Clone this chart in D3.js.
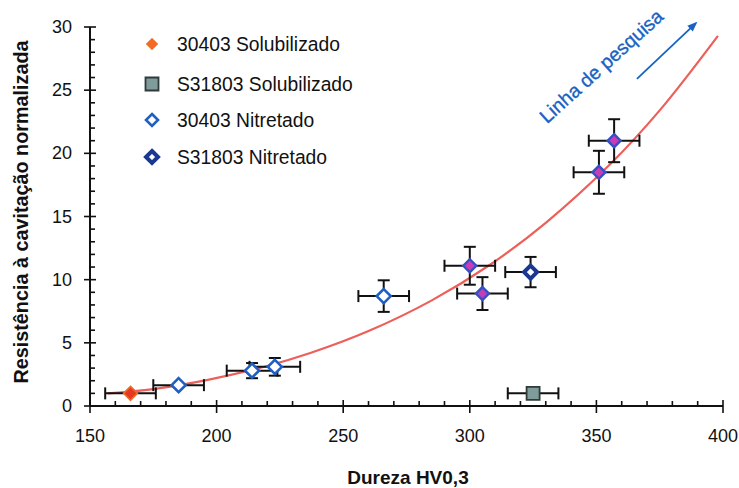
<!DOCTYPE html>
<html>
<head>
<meta charset="utf-8">
<script src="https://cdn.jsdelivr.net/npm/d3@7"></script>
<style>
  body { margin: 0; background: #fff; }
  text { font-family: "Liberation Sans", Arial, Helvetica, sans-serif; }
</style>
</head>
<body>
<svg id="chart" width="739" height="488"></svg>
<script>
// ---- data ----
const xTicks = [150, 200, 250, 300, 350, 400];
const yTicks = [0, 5, 10, 15, 20, 25, 30];

// 30403 Solubilizado
const sol30403Hv = [166];
const sol30403Res = [1.0];
const sol30403HvErr = [10];
const sol30403ResErr = [0];

// S31803 Solubilizado
const solS31803Hv = [325];
const solS31803Res = [1.0];
const solS31803HvErr = [10];
const solS31803ResErr = [0];

// 30403 Nitretado
const nit30403Hv = [185, 214, 223, 266];
const nit30403Res = [1.65, 2.8, 3.1, 8.7];
const nit30403HvErr = [10, 10, 10, 10];
const nit30403ResErr = [0, 0.6, 0.7, 1.25];

// S31803 Nitretado
const nitS31803Hv = [324];
const nitS31803Res = [10.6];
const nitS31803HvErr = [10];
const nitS31803ResErr = [1.2];

// Nitretado, high-hardness samples (pink fill)
const nitAltaHv = [300, 305, 351, 357];
const nitAltaRes = [11.1, 8.9, 18.5, 21.0];
const nitAltaHvErr = [10, 10, 10, 10];
const nitAltaResErr = [1.5, 1.3, 1.7, 1.7];

// trend line ("Linha de pesquisa")
const trendHv = [157, 175, 197, 220, 237, 260, 285, 308, 330, 355, 375, 398];
const trendRes = [1.0, 1.34, 2.09, 3.17, 4.19, 5.93, 8.36, 11.18, 14.5, 19.05, 23.4, 29.3];

const legendLabels = ["30403 Solubilizado", "S31803 Solubilizado", "30403 Nitretado", "S31803 Nitretado"];

// ---- layout ----
const svg = d3.select("#chart");
const x = d3.scaleLinear().domain([150, 400]).range([90, 723]);
const y = d3.scaleLinear().domain([0, 30]).range([406, 27]);

const zip = (hv, res, hvErr, resErr) => hv.map((h, i) => ({ hv: h, res: res[i], hvErr: hvErr[i], resErr: resErr[i] }));

const groups = [
  { pts: zip(sol30403Hv, sol30403Res, sol30403HvErr, sol30403ResErr), shape: "diamond", r: 7, fill: "#e4391f", stroke: "#f06a2a", sw: 1.5 },
  { pts: zip(solS31803Hv, solS31803Res, solS31803HvErr, solS31803ResErr), shape: "square", r: 6.5, fill: "#7f9c9a", stroke: "#2f3a3a", sw: 1.8 },
  { pts: zip(nit30403Hv, nit30403Res, nit30403HvErr, nit30403ResErr), shape: "diamond", r: 7, fill: "#ffffff", stroke: "#1f5fc4", sw: 2.6 },
  { pts: zip(nitS31803Hv, nitS31803Res, nitS31803HvErr, nitS31803ResErr), shape: "diamond", r: 6.5, fill: "#ffffff", stroke: "#1b3891", sw: 4 },
  { pts: zip(nitAltaHv, nitAltaRes, nitAltaHvErr, nitAltaResErr), shape: "diamond", r: 6.5, fill: "#c83cb6", stroke: "#3550c4", sw: 2.4 }
];

function markerPath(shape, r) {
  if (shape === "square") return `M${-r},${-r}H${r}V${r}H${-r}Z`;
  return `M0,${-r}L${r},0L0,${r}L${-r},0Z`;
}

// ---- trend curve ----
const trendLine = d3.line()
  .x((d, i) => x(trendHv[i]))
  .y((d, i) => y(d))
  .curve(d3.curveCatmullRom);
svg.append("path")
  .attr("d", trendLine(trendRes))
  .attr("fill", "none")
  .attr("stroke", "#ec5f5a")
  .attr("stroke-width", 2.2);

// ---- axes ----
const axisG = svg.append("g").attr("stroke", "#111").attr("stroke-width", 1.6);
axisG.append("line").attr("x1", x(150)).attr("x2", x(400)).attr("y1", y(0)).attr("y2", y(0)).attr("stroke-width", 2);
axisG.append("line").attr("x1", x(150)).attr("x2", x(150)).attr("y1", y(0)).attr("y2", y(30)).attr("stroke-width", 2);

d3.range(150, 401, 10).forEach(v => {
  const major = v % 50 === 0;
  axisG.append("line")
    .attr("x1", x(v)).attr("x2", x(v))
    .attr("y1", y(0) + (major ? 7 : 0))
    .attr("y2", y(0) - (major ? 6 : 5));
});
d3.range(0, 31, 1).forEach(v => {
  const major = v % 5 === 0;
  axisG.append("line")
    .attr("y1", y(v)).attr("y2", y(v))
    .attr("x1", x(150) - (major ? 6 : 0))
    .attr("x2", x(150) + (major ? 6 : 5));
});

svg.append("g").selectAll("text").data(xTicks).join("text")
  .attr("x", d => x(d)).attr("y", 442)
  .attr("text-anchor", "middle")
  .attr("font-size", 18).attr("fill", "#111")
  .text(d => d);

svg.append("g").selectAll("text").data(yTicks).join("text")
  .attr("x", 72).attr("y", d => y(d) + 6)
  .attr("text-anchor", "end")
  .attr("font-size", 18).attr("fill", "#111")
  .text(d => d);

// axis titles
svg.append("text")
  .attr("x", 408).attr("y", 484)
  .attr("text-anchor", "middle")
  .attr("font-size", 19).attr("font-weight", "bold").attr("fill", "#111")
  .text("Dureza HV0,3");

svg.append("text")
  .attr("transform", "translate(28,212) rotate(-90)")
  .attr("text-anchor", "middle")
  .attr("font-size", 19.8).attr("font-weight", "bold").attr("fill", "#111")
  .text("Resistência à cavitação normalizada");

// ---- error bars ----
const errG = svg.append("g").attr("stroke", "#111").attr("stroke-width", 2).attr("fill", "none");
const cap = 6;
groups.forEach(g => {
  g.pts.forEach(p => {
    const cx = x(p.hv), cy = y(p.res);
    if (p.hvErr > 0) {
      const x0 = x(p.hv - p.hvErr), x1 = x(p.hv + p.hvErr);
      errG.append("line").attr("x1", x0).attr("x2", x1).attr("y1", cy).attr("y2", cy);
      errG.append("line").attr("x1", x0).attr("x2", x0).attr("y1", cy - cap).attr("y2", cy + cap);
      errG.append("line").attr("x1", x1).attr("x2", x1).attr("y1", cy - cap).attr("y2", cy + cap);
    }
    if (p.resErr > 0) {
      const y0 = y(p.res - p.resErr), y1 = y(p.res + p.resErr);
      errG.append("line").attr("x1", cx).attr("x2", cx).attr("y1", y0).attr("y2", y1);
      errG.append("line").attr("x1", cx - cap).attr("x2", cx + cap).attr("y1", y0).attr("y2", y0);
      errG.append("line").attr("x1", cx - cap).attr("x2", cx + cap).attr("y1", y1).attr("y2", y1);
    }
  });
});

// ---- markers ----
groups.forEach(g => {
  svg.append("g").selectAll("path").data(g.pts).join("path")
    .attr("transform", d => `translate(${x(d.hv)},${y(d.res)})`)
    .attr("d", markerPath(g.shape, g.r))
    .attr("fill", g.fill)
    .attr("stroke", g.stroke)
    .attr("stroke-width", g.sw);
});

// ---- legend ----
const legendY = [44, 84, 120, 157];
const legendMarks = [
  { shape: "diamond", r: 6, fill: "#f26a25", stroke: "#f59a60", sw: 1 },
  { shape: "square", r: 6.5, fill: "#7f9c9a", stroke: "#2f3a3a", sw: 1.8 },
  { shape: "diamond", r: 6, fill: "#ffffff", stroke: "#1f5fc4", sw: 2.6 },
  { shape: "diamond", r: 6, fill: "#ffffff", stroke: "#1b3891", sw: 4 }
];
const legend = svg.append("g");
legendLabels.forEach((lab, i) => {
  const mk = legendMarks[i];
  legend.append("path")
    .attr("transform", `translate(152,${legendY[i]})`)
    .attr("d", markerPath(mk.shape, mk.r))
    .attr("fill", mk.fill).attr("stroke", mk.stroke).attr("stroke-width", mk.sw);
  legend.append("text")
    .attr("x", 177).attr("y", legendY[i] + 6.5)
    .attr("font-size", 19.3).attr("fill", "#111")
    .text(lab);
});

// ---- annotation ----
const annColor = "#1763c4";
const tx = x(330.5), ty = y(22.3);
svg.append("text")
  .attr("transform", `translate(${tx},${ty}) rotate(-42)`)
  .attr("font-size", 19.5).attr("fill", annColor)
  .attr("stroke", annColor).attr("stroke-width", 0.35)
  .text("Linha de pesquisa");

const ax0 = x(366), ay0 = y(25.9), ax1 = x(389.3), ay1 = y(30.3);
svg.append("line")
  .attr("x1", ax0).attr("y1", ay0).attr("x2", ax1).attr("y2", ay1)
  .attr("stroke", annColor).attr("stroke-width", 1.8);
const ang = Math.atan2(ay1 - ay0, ax1 - ax0) * 180 / Math.PI;
svg.append("path")
  .attr("transform", `translate(${ax1},${ay1}) rotate(${ang})`)
  .attr("d", "M2,0L-8,-4L-8,4Z")
  .attr("fill", annColor);
</script>
</body>
</html>
